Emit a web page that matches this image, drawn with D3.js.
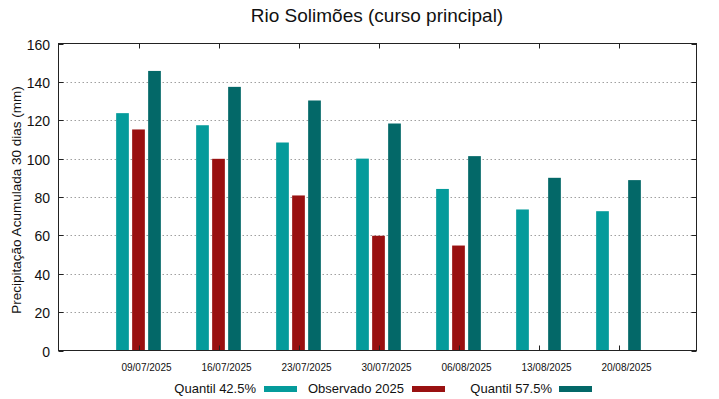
<!DOCTYPE html>
<html><head><meta charset="utf-8">
<script src="https://cdn.jsdelivr.net/npm/d3@7"></script>
<style>body{margin:0;background:#fff}svg{display:block}text{font-family:"Liberation Sans",Arial,sans-serif}</style>
</head><body>
<svg id="c" width="719" height="399"></svg>
<script>
const categories = ["09/07/2025","16/07/2025","23/07/2025","30/07/2025","06/08/2025","13/08/2025","20/08/2025"];
const quantil425 = [123.7, 117.4, 108.4, 100.0, 84.2, 73.5, 72.6];
const observado2025 = [115.2, 99.9, 80.8, 59.8, 54.7, null, null];
const quantil575 = [145.7, 137.4, 130.3, 118.3, 101.3, 90.0, 88.8];
const seriesNames = ["Quantil 42.5%", "Observado 2025", "Quantil 57.5%"];
const seriesColors = ["#049b9b", "#991111", "#036868"];
const yTicks = [0,20,40,60,80,100,120,140,160];

const svg = d3.select("#c");
const L = 58.5, R = 696.5, T = 43.5, B = 350.5;
// category index -> pixel
const x = d3.scaleLinear().domain([-1, 6.975]).range([L, R]);
const y = d3.scaleLinear().domain([0, 160]).range([B, T]);

// gridlines
svg.append("g").selectAll("line").data(yTicks.filter(d => d > 0 && d < 160)).join("line")
  .attr("x1", L).attr("x2", R).attr("y1", d => Math.round(y(d)) + 0.5).attr("y2", d => Math.round(y(d)) + 0.5)
  .attr("stroke", "#a0a0a0").attr("stroke-width", 1).attr("stroke-dasharray", "1.5,2.5");

// bars
const series = [quantil425, observado2025, quantil575];
const barW = 12.7, step = 16;
series.forEach((vals, s) => {
  svg.append("g").selectAll("rect").data(vals.map((v, i) => ({v, i})).filter(d => d.v != null)).join("rect")
    .attr("x", d => x(d.i) + (s - 1) * step - barW / 2)
    .attr("width", barW)
    .attr("y", d => y(d.v))
    .attr("height", d => B - 0.5 - y(d.v))
    .attr("fill", seriesColors[s]);
});

// frame
svg.append("rect").attr("x", L).attr("y", T).attr("width", R - L).attr("height", B - T)
  .attr("fill", "none").attr("stroke", "#222").attr("stroke-width", 1);

// y ticks (left & right, inward)
const gy = svg.append("g");
yTicks.forEach(t => {
  const yy = Math.round(y(t)) + 0.5;
  gy.append("line").attr("x1", L).attr("x2", L + 5).attr("y1", yy).attr("y2", yy).attr("stroke", "#222");
  gy.append("line").attr("x1", R).attr("x2", R - 5).attr("y1", yy).attr("y2", yy).attr("stroke", "#222");
  gy.append("text").attr("x", 50).attr("y", yy + 5).attr("text-anchor", "end")
    .attr("font-size", 14).attr("fill", "#111").text(t);
});

// x ticks (top & bottom, inward) and labels
const gx = svg.append("g");
categories.forEach((c, i) => {
  const xx = Math.round(x(i)) + 0.5;
  gx.append("line").attr("x1", xx).attr("x2", xx).attr("y1", B).attr("y2", B - 5).attr("stroke", "#222");
  gx.append("line").attr("x1", xx).attr("x2", xx).attr("y1", T).attr("y2", T + 5).attr("stroke", "#222");
  gx.append("text").attr("x", xx + 7).attr("y", 371).attr("text-anchor", "middle")
    .attr("font-size", 10).attr("fill", "#111").text(c);
});

// title
svg.append("text").attr("x", 377).attr("y", 22).attr("text-anchor", "middle")
  .attr("font-size", 19).attr("fill", "#111").text("Rio Solimões (curso principal)");

// y label
svg.append("text").attr("transform", "translate(21,200) rotate(-90)").attr("text-anchor", "middle")
  .attr("font-size", 13.5).attr("fill", "#111").text("Precipitação Acumulada 30 dias (mm)");

// legend
const legTextEnd = [256, 404, 552];
const legSw = [264, 412, 559];
seriesNames.forEach((n, s) => {
  svg.append("text").attr("x", legTextEnd[s]).attr("y", 393).attr("text-anchor", "end")
    .attr("font-size", 13).attr("fill", "#111").text(n);
  svg.append("rect").attr("x", legSw[s]).attr("y", 386).attr("width", 33).attr("height", 6)
    .attr("fill", seriesColors[s]);
});
</script>
</body></html>
